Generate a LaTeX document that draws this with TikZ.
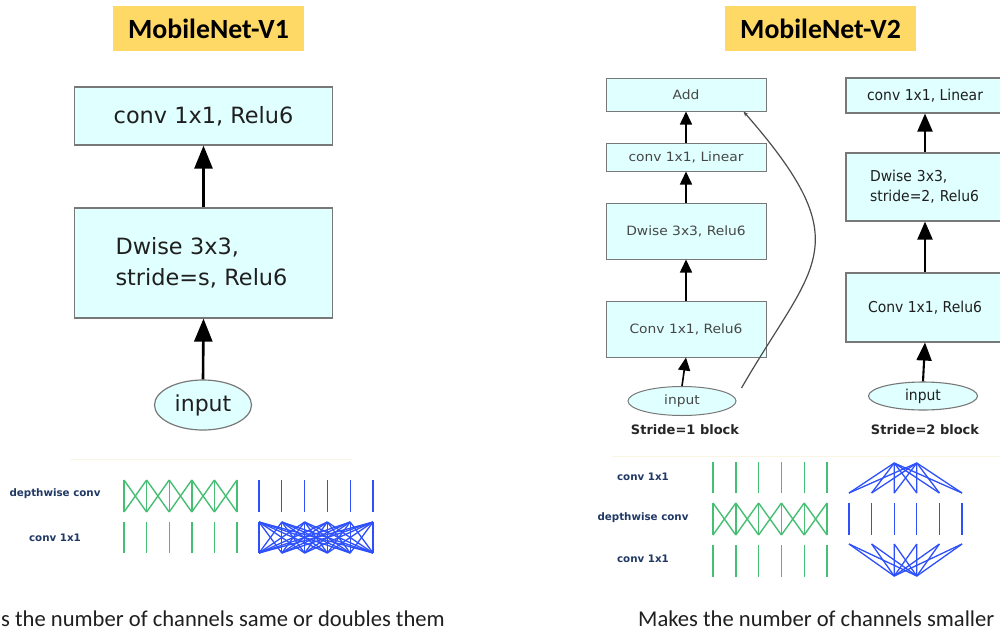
\documentclass[tikz,border=0pt]{standalone}
\usepackage{fontspec}
\setmainfont{DejaVu Sans}
\newfontfamily\calib{Carlito}
\newfontfamily\wideface[FakeStretch=1.08]{DejaVu Sans}
\newfontfamily\narrowface[FakeStretch=0.93]{DejaVu Sans}
\usetikzlibrary{arrows.meta,shapes.geometric}

\definecolor{boxfill}{RGB}{224,255,255}
\definecolor{boxline}{RGB}{120,120,120}
\definecolor{titlebg}{RGB}{255,217,102}
\definecolor{netgreen}{RGB}{70,190,115}
\definecolor{netblue}{RGB}{45,80,250}
\definecolor{labelnavy}{RGB}{31,56,100}
\definecolor{faint}{RGB}{250,246,228}

\tikzset{
  title/.style={fill=titlebg, inner sep=0pt, minimum width=191pt, minimum height=45pt,
    font=\calib\bfseries\fontsize{27.8}{30}\selectfont},
  bigbox/.style={draw=boxline, line width=1.2pt, fill=boxfill, inner sep=0pt,
    minimum width=258pt, text=black!88, font=\fontsize{22.4}{31}\selectfont},
  bigin/.style={ellipse, draw=boxline, line width=1.2pt, fill=boxfill, inner sep=0pt,
    minimum width=97pt, minimum height=50pt, text=black!88, font=\fontsize{22}{26}\selectfont},
  smallbox/.style={draw=boxline, line width=1pt, fill=boxfill, inner sep=0pt,
    minimum width=160pt, text=black!72, font=\wideface\fontsize{12.8}{15}\selectfont},
  smallin/.style={ellipse, draw=boxline, line width=1pt, fill=boxfill, inner sep=0pt,
    minimum width=108pt, minimum height=29pt, text=black!72, font=\wideface\fontsize{12.8}{15}\selectfont},
  midbox/.style={draw=boxline, line width=1.1pt, fill=boxfill, inner sep=0pt,
    minimum width=158pt, text=black!88, font=\narrowface\fontsize{15}{20}\selectfont},
  midin/.style={ellipse, draw=boxline, line width=1.1pt, fill=boxfill, inner sep=0pt,
    minimum width=109pt, minimum height=28pt, text=black!88, font=\narrowface\fontsize{15}{18}\selectfont},
  blocklabel/.style={font=\bfseries\fontsize{13}{15}\selectfont, text=black!85, inner sep=0pt},
  rowlabel/.style={font=\bfseries\fontsize{10.3}{12}\selectfont, text=labelnavy, inner sep=0pt},
  caption/.style={font=\calib\fontsize{22.6}{26}\selectfont, text=black!88, inner sep=0pt, anchor=base west},
  bigarrow/.style={line width=2.6pt, -{Triangle[length=23pt,width=18pt]}},
  smallarrow/.style={line width=1.6pt, -{Triangle[length=13pt,width=12pt]}},
  midarrow/.style={line width=2.1pt, -{Triangle[length=18pt,width=15pt]}},
  skip/.style={line width=1.2pt, draw=black!70, -{Stealth[length=5pt,width=4pt]}},
  gline/.style={netgreen, line width=1.4pt},
  bline/.style={netblue, line width=1.3pt},
}

\begin{document}
\begin{tikzpicture}[x=1pt, y=-1pt]
\useasboundingbox (0,0) rectangle (1000,632);

% titles
\node[title] (t1) at (208.5,28.5) {MobileNet-V1};
\node[title] (t2) at (820.5,28.5) {MobileNet-V2};

% ---------- MobileNet-V1 block ----------
\node[bigbox, minimum height=58pt] (v1c) at (203.5,116) {conv 1x1, Relu6};
\node[bigbox, minimum height=110pt, text width=176pt, align=left] (v1d) at (203.5,263)
  {Dwise 3x3,\\stride=s, Relu6};
\node[bigin] (v1in) at (203,405) {input};
\draw[bigarrow] (v1in.north) -- (v1d.south);
\draw[bigarrow] (v1d.north) -- (v1c.south);

% ---------- MobileNet-V2, stride 1 ----------
\node[smallbox, minimum height=33pt] (add) at (686,94.5) {Add};
\node[smallbox, minimum height=28pt] (lin1) at (686,157) {conv 1x1, Linear};
\node[smallbox, minimum height=56pt] (dw1) at (686,231) {Dwise 3x3, Relu6};
\node[smallbox, minimum height=56pt] (cv1) at (686,329) {Conv 1x1, Relu6};
\node[smallin] (in1) at (682,401) {input};
\node[blocklabel] (lab1) at (685,430) {Stride=1 block};
\draw[smallarrow] (in1.north) -- (cv1.south);
\draw[smallarrow] (cv1.north) -- (dw1.south);
\draw[smallarrow] (dw1.north) -- (lin1.south);
\draw[smallarrow] (lin1.north) -- (add.south);
\coordinate (skipA) at ([shift={(5,-13)}]in1.east);
\coordinate (skipB) at ([xshift=-23pt]add.south east);
\draw[skip] (skipA) .. controls +(72,-125) and +(118,135) .. (skipB);

% ---------- MobileNet-V2, stride 2 ----------
\node[midbox, minimum height=35pt] (lin2) at (925,95.5) {conv 1x1, Linear};
\node[midbox, minimum height=68pt, text width=110pt, align=left] (dw2) at (925,187)
  {Dwise 3x3,\\stride=2, Relu6};
\node[midbox, minimum height=69pt] (cv2) at (925,307.5) {Conv 1x1, Relu6};
\node[midin] (in2) at (923,396) {input};
\node[blocklabel] (lab2) at (925,430) {Stride=2 block};
\draw[midarrow] (in2.north) -- (cv2.south);
\draw[midarrow] (cv2.north) -- (dw2.south);
\draw[midarrow] (dw2.north) -- (lin2.south);

% faint separators above the channel sketches
\draw[faint, line width=1pt] (70,459) -- (352,459);
\draw[faint, line width=1pt] (612,456) -- (1000,456);

% ---------- channel sketches, V1 ----------
\node[rowlabel] (l1a) at (55,494) {depthwise conv};
\node[rowlabel] (l1b) at (55,538) {conv 1x1};
% depthwise: verticals plus crosses between neighbours
\foreach \i in {0,...,5} {
  \draw[gline] (124+\i*22.6,480) -- (124+\i*22.6,512);
  \draw[gline] (124+\i*22.6,522) -- (124+\i*22.6,553);
  \draw[bline] (259+\i*22.8,480) -- (259+\i*22.8,512);
}
\foreach \i in {0,...,4} {
  \draw[gline] (124+\i*22.6,480) -- (124+\i*22.6+22.6,512);
  \draw[gline] (124+\i*22.6,512) -- (124+\i*22.6+22.6,480);
}
% pointwise: every channel to every channel
\foreach \i in {0,...,5} {
  \foreach \j in {0,...,5} {
    \draw[bline] (259+\i*22.8,522) -- (259+\j*22.8,553);
  }
}

% ---------- channel sketches, V2 ----------
\node[rowlabel] (l2a) at (643,477) {conv 1x1};
\node[rowlabel] (l2b) at (643,518) {depthwise conv};
\node[rowlabel] (l2c) at (643,559) {conv 1x1};
\foreach \i in {0,...,5} {
  \draw[gline] (713+\i*22.8,462) -- (713+\i*22.8,493);
  \draw[gline] (713+\i*22.8,503) -- (713+\i*22.8,535);
  \draw[gline] (713+\i*22.8,545) -- (713+\i*22.8,577);
  \draw[bline] (849+\i*22.6,503) -- (849+\i*22.6,535);
  \foreach \k in {894.2,916.8} {
    \draw[bline] (849+\i*22.6,493) -- (\k,463);
    \draw[bline] (849+\i*22.6,544) -- (\k,576);
  }
}
\foreach \i in {0,...,4} {
  \draw[gline] (713+\i*22.8,503) -- (713+\i*22.8+22.8,535);
  \draw[gline] (713+\i*22.8,535) -- (713+\i*22.8+22.8,503);
}

% captions
\node[caption] (c1) at (1,626) {s the number of channels same or doubles them};
\node[caption] (c2) at (638,626) {Makes the number of channels smaller};
\end{tikzpicture}
\end{document}
